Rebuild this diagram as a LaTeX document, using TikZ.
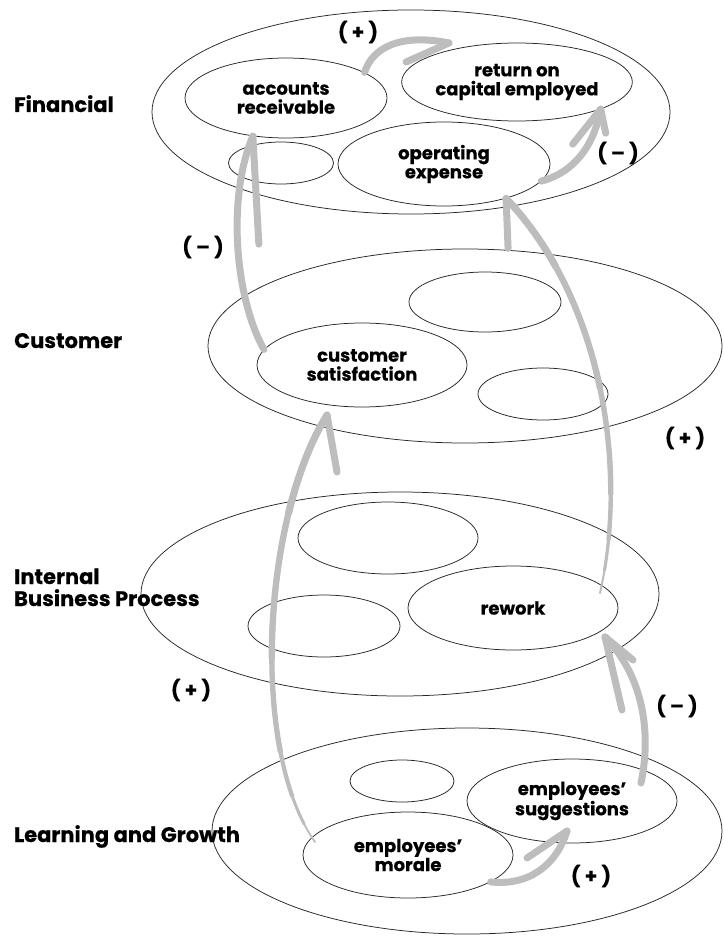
\documentclass[tikz,border=0pt]{standalone}
\usepackage{fontspec}
\setmainfont{Poppins}[BoldFeatures={FakeBold=0.4}]
\usetikzlibrary{shapes.geometric,calc}
\definecolor{arrgray}{gray}{0.74}
\definecolor{inkline}{gray}{0.15}
\newcommand\sidefont{\fontsize{21}{22}\selectfont\bfseries}
\newcommand\innerfont{\fontsize{18}{19}\selectfont\bfseries}
\newcommand\signfont{\fontsize{20}{22}\selectfont\bfseries}
% part of a cubic curve from parameter #5 to its end, drawn with width #6
\newcommand\tpart[6]{%
  \path ($(#1)!#5!(#2)$) coordinate (q01) ($(#2)!#5!(#3)$) coordinate (q12) ($(#3)!#5!(#4)$) coordinate (q23);
  \path ($(q01)!#5!(q12)$) coordinate (q012) ($(q12)!#5!(q23)$) coordinate (q123);
  \path ($(q012)!#5!(q123)$) coordinate (q0123);
  \draw[arrbase, line width=#6] (q0123) .. controls (q123) and (q23) .. (#4);
}
\begin{document}
\begin{tikzpicture}[x=1pt,y=-1pt,
  layer/.style={draw=inkline, line width=0.75pt, ellipse, inner sep=0pt},
  item/.style={draw=inkline, line width=0.75pt, ellipse, inner sep=0pt, align=center, font=\innerfont},
  side/.style={font=\sidefont, inner sep=0pt, anchor=base west, align=left},
  sign/.style={font=\signfont, inner sep=0pt},
  arrbase/.style={draw=arrgray, line cap=round, line join=round},
  arr/.style={arrbase, line width=7pt}
]
\fill[white] (0,0) rectangle (723,936);
\useasboundingbox (0,0) rectangle (723,936);

% layer ellipses
\node[layer, minimum width=518pt, minimum height=204pt] (finL) at (411,112) {};
\node[layer, minimum width=514pt, minimum height=194pt] (custL) at (465,346) {};
\node[layer, minimum width=518pt, minimum height=204pt] (ibpL) at (400,594) {};
\node[layer, minimum width=510pt, minimum height=206pt] (lgL) at (467,831) {};

% inner ellipses
\node[item, minimum width=202pt, minimum height=80pt] (ar) at (286,98) {accounts\\receivable};
\node[item, minimum width=210pt, minimum height=78pt] (roce) at (517,82) {return on\\capital employed};
\node[item, minimum width=105pt, minimum height=42pt] (fsmall) at (281,163) {};
\node[item, minimum width=212pt, minimum height=84pt] (opex) at (444,164) {operating\\expense};
\node[item, minimum width=152pt, minimum height=60pt] (csmallA) at (485,302) {};
\node[item, minimum width=210pt, minimum height=84pt] (custsat) at (362,365) {customer\\satisfaction};
\node[item, minimum width=130pt, minimum height=52pt] (csmallB) at (543,394) {};
\node[item, minimum width=180pt, minimum height=72pt] (ismallA) at (388,538) {};
\node[item, minimum width=152pt, minimum height=62pt] (ismallB) at (324,626) {};
\node[item, minimum width=210pt, minimum height=84pt] (rework) at (513,608) {rework};
\node[item, minimum width=104pt, minimum height=42pt] (lsmall) at (402,781) {};
\node[item, minimum width=210pt, minimum height=84pt] (sugg) at (572,801) {employees’\\suggestions};
\node[item, minimum width=210pt, minimum height=86pt] (morale) at (408,855) {employees’\\morale};

% side labels
\node[side] (lfin) at (14,112) {Financial};
\node[side] (lcust) at (14,348) {Customer};
\node[side] (libp) at (14,606) {Internal\\Business Process};
\node[side] (llg) at (14,842) {Learning and Growth};

% signs
\node[sign] (s1) at (358,32) {( + )};
\node[sign] (s2) at (618,153) {( – )};
\node[sign] (s3) at (203,247) {( – )};
\node[sign] (s4) at (685,438) {( + )};
\node[sign] (s5) at (191,690) {( + )};
\node[sign] (s6) at (677,706) {( – )};
\node[sign] (s7) at (591,876) {( + )};

% arrow 1: accounts receivable -> return on capital employed
\coordinate (a1s) at (ar.18.7);
\coordinate (a1t) at ($(roce.center)+(-68,-39)$);
\draw[arr] (a1s) .. controls (372,48) and (400,33) .. (a1t);
\draw[arr] (a1t) -- ++(-43,19);

% arrow 2: operating expense -> return on capital employed
\coordinate (a2s) at (opex.-10.6);
\coordinate (a2t) at (roce.-18.2);
\draw[arr] (a2s) .. controls (575,172) and (594,145) .. (a2t);
\draw[arr] (a2t) -- ++(-28,35);
\draw[arr] (a2t) -- ++(5,24);

% arrow 3: customer satisfaction -> accounts receivable
\coordinate (a3s) at (custsat.171);
\coordinate (a3t) at (ar.229);
\draw[arr] (a3s) .. controls (236,300) and (226,200) .. (a3t);
\draw[arr] (a3t) -- ++(6,108);

% arrow 4: rework -> operating expense (tapered)
\coordinate (a4s) at ($(rework.center)+(87,-15)$);
\coordinate (a4c1) at (628,470);
\coordinate (a4c2) at (603,300);
\coordinate (a4t) at (opex.-29.1);
\draw[arrbase, line width=2pt] (a4s) .. controls (a4c1) and (a4c2) .. (a4t);
\tpart{a4s}{a4c1}{a4c2}{a4t}{0.06}{3.2pt}
\tpart{a4s}{a4c1}{a4c2}{a4t}{0.14}{4.4pt}
\tpart{a4s}{a4c1}{a4c2}{a4t}{0.25}{5.4pt}
\tpart{a4s}{a4c1}{a4c2}{a4t}{0.5}{6.2pt}
\tpart{a4s}{a4c1}{a4c2}{a4t}{0.8}{7pt}
\draw[arr] (a4t) -- ++(2,50);

% arrow 5: employees' morale -> customer satisfaction (tapered)
\coordinate (a5s) at ($(morale.center)+(-93,-13)$);
\coordinate (a5c1) at (250,750);
\coordinate (a5c2) at (262,520);
\coordinate (a5t) at ($(custsat.center)+(-35,50)$);
\draw[arrbase, line width=1.8pt] (a5s) .. controls (a5c1) and (a5c2) .. (a5t);
\tpart{a5s}{a5c1}{a5c2}{a5t}{0.06}{3pt}
\tpart{a5s}{a5c1}{a5c2}{a5t}{0.14}{4.2pt}
\tpart{a5s}{a5c1}{a5c2}{a5t}{0.25}{5.3pt}
\tpart{a5s}{a5c1}{a5c2}{a5t}{0.45}{6.3pt}
\tpart{a5s}{a5c1}{a5c2}{a5t}{0.75}{7pt}
\draw[arr] (a5t) -- ++(10,57);

% arrow 6: employees' suggestions -> rework
\coordinate (a6s) at ($(sugg.center)+(69,-18)$);
\coordinate (a6t) at ($(rework.center)+(92,29)$);
\draw[arr] (a6s) .. controls (652,730) and (642,675) .. (a6t);
\draw[arr] (a6t) -- ++(17,73);
\draw[arr] (a6t) -- ++(28,23);

% arrow 7: employees' morale -> employees' suggestions
\coordinate (a7s) at (morale.-18.2);
\coordinate (a7t) at ($(sugg.center)+(-5,30)$);
\draw[arr] (a7s) .. controls (528,886) and (556,866) .. (a7t);
\draw[arr] (a7t) -- ++(-40,27);
\end{tikzpicture}
\end{document}
